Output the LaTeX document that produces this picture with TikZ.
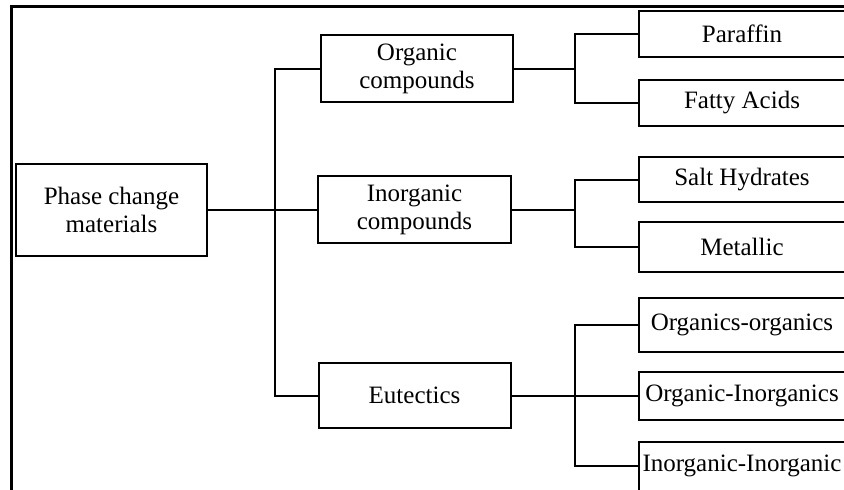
\documentclass[tikz,border=0pt]{standalone}
\usepackage{fontspec}
\setmainfont{Liberation Serif}
\begin{document}
\begin{tikzpicture}[x=1pt,y=-1pt,
  box/.style={draw=black,line width=2pt,fill=white,inner sep=0pt,align=center,
    font=\fontsize{25}{28}\selectfont},
  wire/.style={draw=black,line width=2pt}]
\useasboundingbox (0,0) rectangle (844,490);
\fill[white] (0,0) rectangle (844,490);
% frame
\draw[line width=3pt] (11.5,500) -- (11.5,6) -- (860,6);
% root
\node[box,minimum width=191pt,minimum height=92pt] (pcm) at (111.5,210) {Phase change\\materials};
% middle column
\node[box,minimum width=192pt,minimum height=67pt] (org) at (417,68.5) {Organic\\compounds};
\node[box,minimum width=193pt,minimum height=67pt] (inorg) at (414.5,209.5) {Inorganic\\compounds};
\node[box,minimum width=192pt,minimum height=65pt] (eut) at (414.5,395.5) {Eutectics};
% right column
\node[box,minimum width=206pt,minimum height=46pt] (par) at (742,34) {Paraffin};
\node[box,minimum width=206pt,minimum height=46pt] (fat) at (742,103) {Fatty Acids};
\node[box,minimum width=206pt,minimum height=45pt] (salt) at (742,179.5) {Salt Hydrates};
\node[box,minimum width=206pt,minimum height=50pt] (met) at (742,247) {Metallic};
\node[box,minimum width=206pt,minimum height=54pt] (oo) at (742,325) {Organics-organics};
\node[box,minimum width=206pt,minimum height=48pt] (oi) at (742,395.5) {Organic-Inorganics};
\node[box,minimum width=206pt,minimum height=49pt] (ii) at (742,466) {Inorganic-Inorganic};
% junctions
\coordinate (j0) at (274.5,210);
\coordinate (j1) at (575,68.5);
\coordinate (j2) at (575,209.5);
\coordinate (j3) at (575,395.5);
% connectors level 1
\draw[wire] (pcm.east) -- (j0);
\draw[wire] (org.west) -| (j0);
\draw[wire] (eut.west) -| (j0);
\draw[wire] (inorg.west) -- (inorg.west -| j0);
% connectors level 2
\draw[wire] (org.east) -- (j1);
\draw[wire] (par.west) -| (j1);
\draw[wire] (fat.west) -| (j1);
\draw[wire] (inorg.east) -- (j2);
\draw[wire] (salt.west) -| (j2);
\draw[wire] (met.west) -| (j2);
\draw[wire] (eut.east) -- (j3);
\draw[wire] (oo.west) -| (j3);
\draw[wire] (oi.west) -- (j3);
\draw[wire] (ii.west) -| (j3);
\end{tikzpicture}
\end{document}
